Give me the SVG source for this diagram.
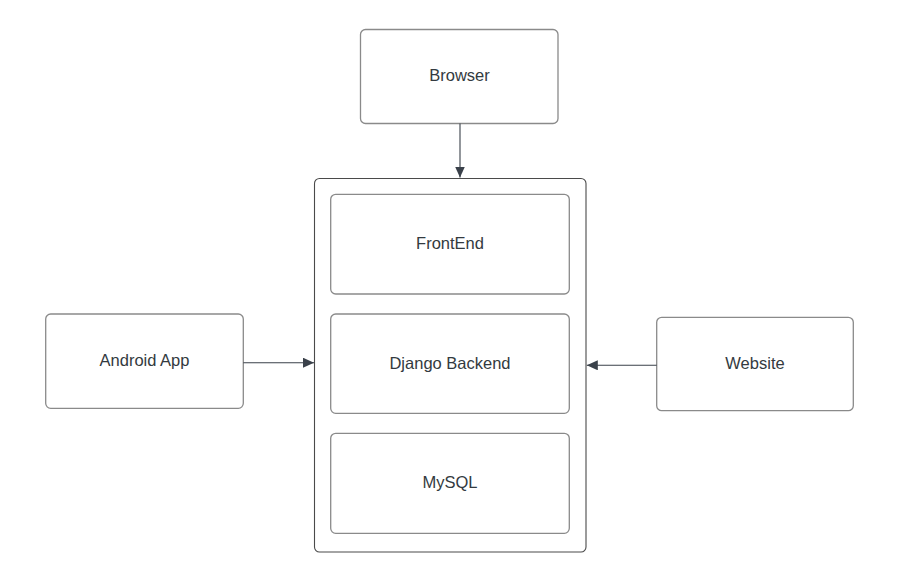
<svg xmlns="http://www.w3.org/2000/svg" width="921" height="580" viewBox="0 0 921 580">
<style>
.box{fill:#fff;stroke:#8a8a8a;stroke-width:1.3}
.outer{fill:#fff;stroke:#4a4a4a;stroke-width:1.1}
.lbl{font-family:"Liberation Sans",Arial,sans-serif;font-size:16.5px;fill:#333a40;text-anchor:middle}
.conn{stroke:#3a414a;stroke-width:1.1;fill:none}
</style>
<defs>
<marker id="ah" markerWidth="12" markerHeight="10" refX="11" refY="5" orient="auto" markerUnits="userSpaceOnUse">
<path d="M0,0 L11,5 L0,10 Z" fill="#3a414a"/>
</marker>
</defs>
<rect width="921" height="580" fill="#fff"/>
<g id="container">
<rect class="outer" x="314.5" y="178.5" width="271.5" height="373.5" rx="5"/>
</g>
<g id="browser">
<rect class="box" x="360.5" y="29.5" width="197.5" height="94" rx="5"/>
<text class="lbl" x="459.5" y="81">Browser</text>
</g>
<g id="frontend">
<rect class="box" x="330.7" y="194.3" width="238.6" height="99.7" rx="5"/>
<text class="lbl" x="450" y="249">FrontEnd</text>
</g>
<g id="django">
<rect class="box" x="330.7" y="314" width="238.6" height="99.3" rx="5"/>
<text class="lbl" x="450" y="368.5">Django Backend</text>
</g>
<g id="mysql">
<rect class="box" x="330.7" y="433.3" width="238.6" height="100" rx="5"/>
<text class="lbl" x="450" y="488">MySQL</text>
</g>
<g id="android">
<rect class="box" x="45.7" y="314" width="197.6" height="94.3" rx="5"/>
<text class="lbl" x="144.5" y="365.5">Android App</text>
</g>
<g id="website">
<rect class="box" x="656.7" y="317.3" width="196.6" height="93.4" rx="5"/>
<text class="lbl" x="755" y="369">Website</text>
</g>
<g id="connectors">
<line class="conn" x1="460" y1="123.5" x2="460" y2="177.5" marker-end="url(#ah)"/>
<line class="conn" x1="243.3" y1="362.7" x2="314" y2="362.7" marker-end="url(#ah)"/>
<line class="conn" x1="656.7" y1="365.3" x2="586.8" y2="365.3" marker-end="url(#ah)"/>
</g>
</svg>
